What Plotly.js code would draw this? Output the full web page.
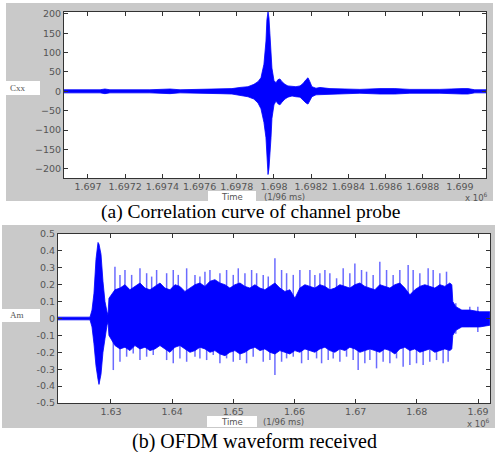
<!DOCTYPE html>
<html>
<head>
<meta charset="utf-8">
<script src="https://cdn.plot.ly/plotly-3.0.1.min.js"></script>
<style>html,body{margin:0;padding:0;background:#fff;}#chart{width:495px;height:452px;}</style>
</head>
<body>
<div id="chart"></div>
<script>
// ---------- (a) correlation curve: envelope of Cxx (time in 10^6 x 1/96 ms) ----------
const corrTime = [1.696871,1.697065,1.697091,1.697118,1.697333,1.697441,1.697495,1.697602,1.697710,1.697774,1.697817,1.697860,1.697892,1.697914,1.697930,1.697946,1.697957,1.697962,1.697968,1.697973,1.697978,1.697984,1.697989,1.698000,1.698011,1.698021,1.698032,1.698043,1.698059,1.698075,1.698097,1.698118,1.698140,1.698156,1.698172,1.698183,1.698193,1.698204,1.698226,1.698247,1.698301,1.698355,1.698462,1.698570,1.698650,1.698731,1.698892,1.699011,1.699043,1.699080,1.699140];
const corrHigh = [4,4,6,4,4,6,4,5,6,7,10,12,18,25,35,70,130,185,205,190,150,100,60,28,22,30,32,25,18,14,12,12,14,20,30,35,25,12,8,10,7,6,5,7,7,5,5,7,7,4,4];
const corrLow  = [-4,-4,-6,-4,-4,-6,-4,-5,-6,-7,-10,-14,-20,-30,-45,-80,-120,-170,-215,-200,-170,-120,-70,-35,-25,-32,-35,-28,-20,-15,-12,-14,-15,-22,-30,-33,-25,-14,-9,-8,-7,-6,-5,-7,-7,-5,-5,-7,-7,-4,-4];
const corrTicks = [1.697,1.6972,1.6974,1.6976,1.6978,1.698,1.6982,1.6984,1.6986,1.6988,1.699];
const corrTickText = ["1.697","1.6972","1.6974","1.6976","1.6978","1.698","1.6982","1.6984","1.6986","1.6988","1.699"];
const cxxTicks = [-200,-150,-100,-50,0,50,100,150,200];

// ---------- (b) OFDM waveform: dense core envelope ----------
const ofdmTime = [1.62134,1.62657,1.62690,1.62722,1.62755,1.62788,1.62804,1.62837,1.62869,1.62902,1.62935,1.62951,1.62967,
  1.62984,1.63065,1.63147,1.63229,1.63310,1.63392,1.63474,1.63556,1.63637,1.63719,1.63801,1.63882,1.63964,1.64046,1.64127,1.64209,1.64291,1.64373,1.64454,1.64536,1.64618,1.64699,1.64781,1.64863,1.64944,1.65026,1.65108,1.65190,1.65271,1.65353,1.65435,1.65516,1.65598,1.65680,1.65761,1.65843,1.65925,1.66007,1.66088,1.66170,1.66252,1.66333,1.66415,1.66497,1.66578,1.66660,1.66742,1.66824,1.66905,1.66987,1.67069,1.67150,1.67232,1.67314,1.67395,1.67477,1.67559,1.67641,1.67722,1.67804,1.67886,1.67967,1.68049,1.68131,1.68212,1.68294,1.68376,1.68458,1.68539,
  1.68572,1.68588,1.68637,1.68735,1.68866,1.69029,1.69193];
const ofdmHigh = [0.008,0.008,0.05,0.15,0.35,0.45,0.44,0.38,0.22,0.10,0.04,0.02,0.12,
  0.13,0.17,0.18,0.20,0.17,0.19,0.21,0.18,0.17,0.19,0.21,0.18,0.17,0.20,0.19,0.16,0.18,0.20,0.21,0.19,0.22,0.23,0.21,0.20,0.18,0.20,0.21,0.19,0.18,0.20,0.18,0.17,0.19,0.21,0.18,0.16,0.17,0.12,0.18,0.20,0.19,0.18,0.20,0.19,0.17,0.18,0.20,0.19,0.18,0.20,0.21,0.19,0.18,0.17,0.20,0.19,0.18,0.20,0.21,0.18,0.14,0.17,0.19,0.20,0.19,0.18,0.20,0.19,0.21,
  0.20,0.10,0.07,0.05,0.05,0.04,0.04];
const ofdmLow  = [-0.008,-0.008,-0.05,-0.15,-0.28,-0.36,-0.39,-0.33,-0.20,-0.12,-0.04,-0.02,-0.10,
  -0.11,-0.16,-0.18,-0.17,-0.19,-0.16,-0.18,-0.17,-0.19,-0.18,-0.16,-0.18,-0.20,-0.17,-0.16,-0.18,-0.20,-0.19,-0.17,-0.18,-0.20,-0.19,-0.21,-0.22,-0.20,-0.19,-0.21,-0.20,-0.18,-0.17,-0.19,-0.18,-0.20,-0.21,-0.19,-0.20,-0.21,-0.19,-0.20,-0.18,-0.19,-0.20,-0.18,-0.17,-0.19,-0.20,-0.18,-0.19,-0.17,-0.18,-0.20,-0.19,-0.18,-0.19,-0.20,-0.18,-0.19,-0.21,-0.18,-0.17,-0.19,-0.18,-0.20,-0.19,-0.18,-0.20,-0.19,-0.18,-0.19,
  -0.18,-0.10,-0.07,-0.05,-0.05,-0.05,-0.04];

// positive spikes rising out of the core
const peakTime = [1.63065,1.63147,1.63229,1.63338,1.63474,1.63583,1.63665,1.63746,1.63910,1.64018,1.64100,1.64237,1.64373,1.64454,1.64536,1.64618,1.64781,1.64890,1.64999,1.65081,1.65190,1.65299,1.65381,1.65489,1.65571,1.65680,1.65789,1.65871,1.65980,1.66088,1.66252,1.66333,1.66415,1.66497,1.66578,1.66688,1.66796,1.66905,1.66987,1.67096,1.67178,1.67286,1.67395,1.67505,1.67613,1.67722,1.67858,1.67940,1.68049,1.68185,1.68267,1.68376,1.68485,1.68637,1.68866,1.68997];
const peakValue = [0.306,0.258,0.287,0.258,0.297,0.268,0.248,0.287,0.268,0.287,0.258,0.297,0.258,0.248,0.277,0.287,0.268,0.287,0.258,0.297,0.268,0.287,0.268,0.258,0.248,0.356,0.287,0.268,0.258,0.287,0.287,0.258,0.268,0.287,0.268,0.238,0.297,0.268,0.326,0.287,0.277,0.258,0.336,0.287,0.258,0.287,0.316,0.287,0.268,0.297,0.287,0.268,0.277,0.09,0.07,0.07];
// negative spikes
const troughTime = [1.63038,1.63147,1.63256,1.63364,1.63474,1.63583,1.63691,1.63910,1.64018,1.64127,1.64237,1.64373,1.64454,1.64564,1.64672,1.64781,1.64890,1.64999,1.65108,1.65217,1.65325,1.65489,1.65598,1.65680,1.65789,1.65871,1.65980,1.66116,1.66224,1.66361,1.66443,1.66551,1.66633,1.66742,1.66851,1.66959,1.67041,1.67150,1.67232,1.67341,1.67449,1.67559,1.67668,1.67776,1.67886,1.67995,1.68103,1.68212,1.68322,1.68430,1.68512,1.68637,1.68997];
const troughValue = [-0.305,-0.256,-0.226,-0.207,-0.246,-0.226,-0.216,-0.246,-0.265,-0.236,-0.256,-0.226,-0.236,-0.246,-0.216,-0.265,-0.236,-0.256,-0.246,-0.265,-0.226,-0.256,-0.246,-0.334,-0.256,-0.236,-0.226,-0.265,-0.246,-0.236,-0.265,-0.246,-0.236,-0.256,-0.226,-0.246,-0.305,-0.265,-0.246,-0.295,-0.256,-0.265,-0.236,-0.285,-0.275,-0.265,-0.275,-0.256,-0.246,-0.265,-0.256,-0.09,-0.08];
const ofdmTicks = [1.63,1.64,1.65,1.66,1.67,1.68,1.69];
const ofdmTickText = ["1.63","1.64","1.65","1.66","1.67","1.68","1.69"];
const amTicks = [-0.5,-0.4,-0.3,-0.2,-0.1,0,0.1,0.2,0.3,0.4,0.5];
const amTickText = ["-0.5","-0.4","-0.3","-0.2","-0.1","0","0.1","0.2","0.3","0.4","0.5"];

// ---------- build traces ----------
function envelope(t, hi, lo, xa, ya) {
  return {
    x: t.concat(t.slice().reverse()),
    y: hi.concat(lo.slice().reverse()),
    xaxis: xa, yaxis: ya, mode: 'lines', fill: 'toself',
    fillcolor: '#0000ff', line: {color: '#0000ff', width: 0.8},
    hoverinfo: 'skip', showlegend: false
  };
}
function spikes(t, v, xa, ya) {
  const xs = [], ys = [];
  t.forEach((ti, i) => { xs.push(ti, ti, null); ys.push(0, v[i], null); });
  return {x: xs, y: ys, xaxis: xa, yaxis: ya, mode: 'lines',
    line: {color: 'rgba(50,50,255,0.72)', width: 1.5}, hoverinfo: 'skip', showlegend: false};
}

const traces = [
  envelope(corrTime, corrHigh, corrLow, 'x', 'y'),
  spikes(peakTime, peakValue, 'x2', 'y2'),
  spikes(troughTime, troughValue, 'x2', 'y2'),
  envelope(ofdmTime, ofdmHigh, ofdmLow, 'x2', 'y2')
];

const W = 495, H = 452;
const px = v => v / W;
const py = v => 1 - v / H;
const tickFont = {family: 'DejaVu Sans, sans-serif', size: 9.5, color: '#555'};
const axisCommon = {
  showline: true, mirror: 'ticks', linecolor: '#333', linewidth: 1,
  ticks: 'inside', ticklen: 4, tickcolor: '#333', showgrid: false, zeroline: false,
  tickfont: tickFont, tickangle: 0, fixedrange: true
};
const annFont = {family: 'DejaVu Sans, sans-serif', size: 8.5, color: '#555'};

const layout = {
  width: W, height: H,
  margin: {l: 0, r: 0, t: 0, b: 0},
  paper_bgcolor: '#ffffff', plot_bgcolor: 'rgba(0,0,0,0)',
  showlegend: false,
  xaxis: Object.assign({}, axisCommon, {domain: [px(64), px(486)], anchor: 'y',
    range: [1.696871, 1.699140], tickmode: 'array', tickvals: corrTicks, ticktext: corrTickText}),
  yaxis: Object.assign({}, axisCommon, {domain: [py(178), py(12)], anchor: 'x',
    range: [-224, 205], tickmode: 'array', tickvals: cxxTicks}),
  xaxis2: Object.assign({}, axisCommon, {domain: [px(58), px(490)], anchor: 'y2',
    range: [1.62134, 1.69196], tickmode: 'array', tickvals: ofdmTicks, ticktext: ofdmTickText}),
  yaxis2: Object.assign({}, axisCommon, {domain: [py(403), py(234)], anchor: 'x2',
    range: [-0.5, 0.5], tickmode: 'array', tickvals: amTicks, ticktext: amTickText}),
  shapes: [
    {type: 'rect', xref: 'paper', yref: 'paper', x0: px(6), x1: px(493), y0: py(201), y1: py(3), fillcolor: '#c9c9c9', line: {width: 0}, layer: 'below'},
    {type: 'rect', xref: 'paper', yref: 'paper', x0: px(2), x1: px(495), y0: py(428), y1: py(225), fillcolor: '#c9c9c9', line: {width: 0}, layer: 'below'},
    {type: 'rect', xref: 'paper', yref: 'paper', x0: px(64), x1: px(486), y0: py(178), y1: py(12), fillcolor: '#ffffff', line: {width: 0}, layer: 'below'},
    {type: 'rect', xref: 'paper', yref: 'paper', x0: px(58), x1: px(490), y0: py(403), y1: py(234), fillcolor: '#ffffff', line: {width: 0}, layer: 'below'},
    {type: 'rect', xref: 'paper', yref: 'paper', x0: px(2), x1: px(40), y0: py(95), y1: py(81), fillcolor: '#ffffff', line: {width: 0}, layer: 'below'},
    {type: 'rect', xref: 'paper', yref: 'paper', x0: px(0), x1: px(40), y0: py(322), y1: py(309), fillcolor: '#ffffff', line: {width: 0}, layer: 'below'},
    {type: 'rect', xref: 'paper', yref: 'paper', x0: px(208), x1: px(256), y0: py(201), y1: py(191), fillcolor: '#ffffff', line: {width: 0}, layer: 'below'},
    {type: 'rect', xref: 'paper', yref: 'paper', x0: px(207), x1: px(257), y0: py(427), y1: py(416), fillcolor: '#ffffff', line: {width: 0}, layer: 'below'}
  ],
  annotations: [
    {text: 'Cxx', xref: 'paper', yref: 'paper', x: px(8), y: py(88), xanchor: 'left', yanchor: 'middle', showarrow: false, font: {family: 'Liberation Serif, serif', size: 9, color: '#555'}},
    {text: 'Am', xref: 'paper', yref: 'paper', x: px(8), y: py(315), xanchor: 'left', yanchor: 'middle', showarrow: false, font: {family: 'Liberation Serif, serif', size: 9, color: '#555'}},
    {text: 'Time', xref: 'paper', yref: 'paper', x: px(232), y: py(197), xanchor: 'center', yanchor: 'middle', showarrow: false, borderpad: 0, font: annFont},
    {text: '(1/96 ms)', xref: 'paper', yref: 'paper', x: px(263), y: py(197), xanchor: 'left', yanchor: 'middle', showarrow: false, borderpad: 0, font: annFont},
    {text: 'Time', xref: 'paper', yref: 'paper', x: px(232), y: py(422), xanchor: 'center', yanchor: 'middle', showarrow: false, borderpad: 0, font: annFont},
    {text: '(1/96 ms)', xref: 'paper', yref: 'paper', x: px(262), y: py(422), xanchor: 'left', yanchor: 'middle', showarrow: false, borderpad: 0, font: annFont},
    {text: 'x 10<sup>6</sup>', xref: 'paper', yref: 'paper', x: px(489), y: py(197), xanchor: 'right', yanchor: 'middle', showarrow: false, borderpad: 0, font: annFont},
    {text: 'x 10<sup>6</sup>', xref: 'paper', yref: 'paper', x: px(491), y: py(423), xanchor: 'right', yanchor: 'middle', showarrow: false, borderpad: 0, font: annFont},
    {text: '(a) Correlation curve of channel probe', xref: 'paper', yref: 'paper', x: px(250), y: py(212), xanchor: 'center', yanchor: 'middle', showarrow: false, font: {family: 'Liberation Serif, Times New Roman, serif', size: 19.5, color: '#000'}},
    {text: '(b) OFDM waveform received', xref: 'paper', yref: 'paper', x: px(254), y: py(441), xanchor: 'center', yanchor: 'middle', showarrow: false, font: {family: 'Liberation Serif, Times New Roman, serif', size: 20, color: '#000'}}
  ]
};

Plotly.newPlot('chart', traces, layout, {displayModeBar: false, staticPlot: true});
</script>
</body>
</html>
